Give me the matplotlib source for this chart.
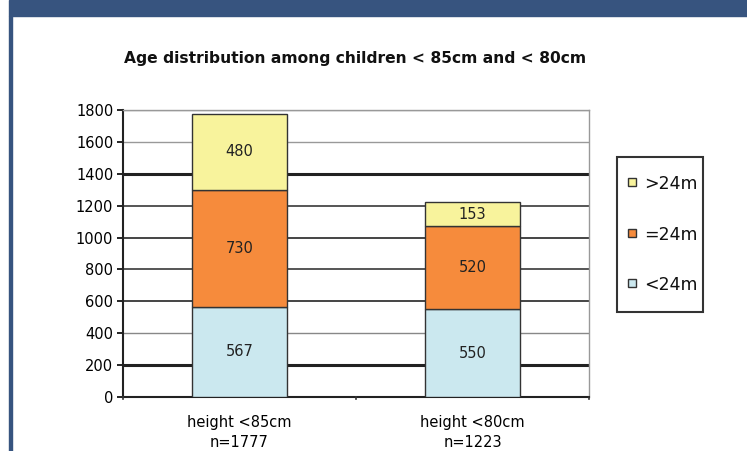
import matplotlib
matplotlib.use("Agg")
import matplotlib.pyplot as plt
from matplotlib.patches import Rectangle

plt.rcParams['font.family'] = ['DejaVu Sans']

# Data
categories = ["height <85cm\nn=1777", "height <80cm\nn=1223"]
under_24m = [567, 550]
at_24m = [730, 520]
over_24m = [480, 153]
series_labels = ["<24m", "=24m", ">24m"]
y_ticks = [0, 200, 400, 600, 800, 1000, 1200, 1400, 1600, 1800]

col_under = "#CBE8EF"
col_at = "#F68B3C"
col_over = "#F8F39C"
edge = "#333333"

W, H = 747, 451
fig = plt.figure(figsize=(W / 100, H / 100), dpi=100)
fig.patch.set_facecolor("white")


def fx(px):
    return px / W


def fy(py):
    return 1 - py / H


# page frame: blue header band and left rule
fig.patches.append(Rectangle((fx(9), fy(16)), 1, 16 / H,
                             transform=fig.transFigure, color="#37547F", zorder=0))
fig.patches.append(Rectangle((fx(9), 0), 2.5 / W, fy(16),
                             transform=fig.transFigure, color="#37547F", zorder=0))

ax = fig.add_axes([fx(123), fy(397), (589 - 123) / W, (397 - 110) / H])
ax.set_facecolor("white")

x = list(range(len(categories)))
w = 0.41
ax.bar(x, under_24m, w, color=col_under, edgecolor=edge, linewidth=1.0, zorder=3)
bottom2 = under_24m
ax.bar(x, at_24m, w, bottom=bottom2, color=col_at, edgecolor=edge, linewidth=1.0, zorder=3)
bottom3 = [a + b for a, b in zip(under_24m, at_24m)]
ax.bar(x, over_24m, w, bottom=bottom3, color=col_over, edgecolor=edge, linewidth=1.0, zorder=3)

for vals, bots in ((under_24m, [0, 0]), (at_24m, bottom2), (over_24m, bottom3)):
    for xi, v, bo in zip(x, vals, bots):
        ax.text(xi, bo + v / 2, str(v), ha="center", va="center",
                fontsize=10.5, color="#222222", zorder=4)

ax.set_xlim(-0.5, 1.5)
ax.set_ylim(0, 1800)
ax.set_yticks(y_ticks)
ax.set_yticklabels([str(t) for t in y_ticks], fontsize=10.5)
ax.set_xticks(x)
ax.set_xticklabels(categories, fontsize=10.5, linespacing=1.45)
ax.tick_params(axis="x", length=0, pad=13)
ax.tick_params(axis="y", length=4, width=1.2, direction="out", pad=3)

# category boundary ticks
for xb in (-0.5, 0.5, 1.5):
    ax.plot([xb, xb], [0, -15], color="#333333", lw=1.2, clip_on=False, zorder=5)

ax.yaxis.grid(True, zorder=0)
grid_styles = {0: (0, "#333333"), 200: (2.2, "#222222"), 400: (1.0, "#888888"),
               600: (1.4, "#444444"), 800: (1.4, "#555555"), 1000: (1.4, "#444444"),
               1200: (1.4, "#555555"), 1400: (2.2, "#222222"), 1600: (1.0, "#999999"),
               1800: (1.0, "#999999")}
for t, gl in zip(y_ticks, ax.get_ygridlines()):
    lw, c = grid_styles[t]
    gl.set_linewidth(lw)
    gl.set_color(c)
ax.set_axisbelow(True)

for s in ("left", "bottom"):
    ax.spines[s].set_linewidth(1.5)
    ax.spines[s].set_color("#222222")
for s in ("right", "top"):
    ax.spines[s].set_linewidth(1.0)
    ax.spines[s].set_color("#999999")

fig.text(fx(355), fy(59), "Age distribution among children < 85cm and < 80cm",
         ha="center", va="center", fontsize=11.2, fontweight="bold", color="#111111")

# legend box, entries listed top to bottom
fig.patches.append(Rectangle((fx(617), fy(312)), (703 - 617) / W, (312 - 157) / H,
                             transform=fig.transFigure, facecolor="white",
                             edgecolor="#333333", linewidth=1.5, zorder=5))
legend_entries = [(series_labels[2], col_over), (series_labels[1], col_at),
                  (series_labels[0], col_under)]
for i, (lab, col) in enumerate(legend_entries):
    yc = 182 + i * 50.5
    fig.patches.append(Rectangle((fx(628), fy(yc + 4)), 8 / W, 8 / H,
                                 transform=fig.transFigure, facecolor=col,
                                 edgecolor="#333333", linewidth=1.0, zorder=6))
    fig.text(fx(644), fy(yc), lab, ha="left", va="center_baseline",
             fontsize=12.5, color="#111111", zorder=6)

fig.savefig("out.png", dpi=100)
